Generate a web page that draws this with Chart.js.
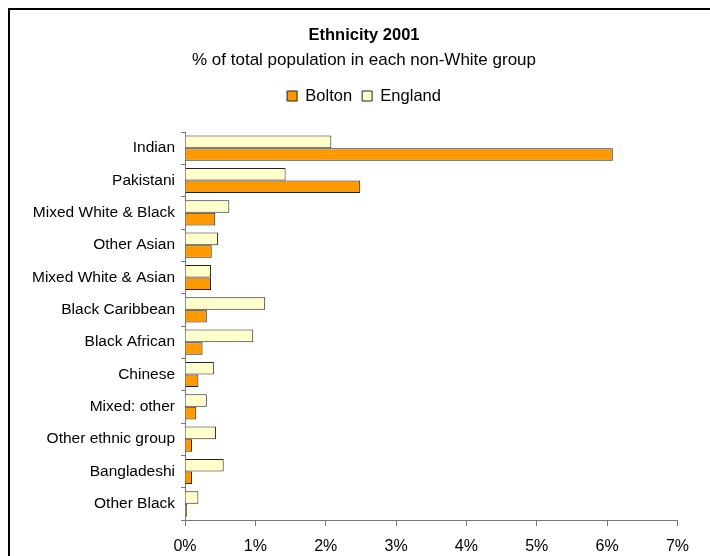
<!DOCTYPE html>
<html>
<head>
<meta charset="utf-8">
<script src="https://cdn.jsdelivr.net/npm/chart.js@4/dist/chart.umd.min.js"></script>
<style>
  html, body { margin: 0; padding: 0; background: #fff; }
  #wrap { width: 710px; height: 556px; position: relative; }
</style>
</head>
<body>
<div id="wrap"><canvas id="c" width="710" height="556"></canvas></div>
<script>
const categories = ['Indian', 'Pakistani', 'Mixed White & Black', 'Other Asian', 'Mixed White & Asian',
  'Black Caribbean', 'Black African', 'Chinese', 'Mixed: other', 'Other ethnic group', 'Bangladeshi', 'Other Black'];
const boltonValues = [6.08, 2.49, 0.43, 0.38, 0.37, 0.31, 0.25, 0.19, 0.16, 0.10, 0.10, 0.03];
const englandValues = [2.08, 1.43, 0.63, 0.47, 0.37, 1.14, 0.97, 0.41, 0.31, 0.44, 0.55, 0.19];
const xTickValues = [0, 1, 2, 3, 4, 5, 6, 7];
const titleText = 'Ethnicity 2001';
const subtitleText = '% of total population in each non-White group';

const FONT = "'Liberation Sans', Arial, sans-serif";

const framePlugin = {
  id: 'frame',
  beforeDraw(chart) {
    const ctx = chart.ctx;
    ctx.save();
    ctx.fillStyle = '#ffffff';
    ctx.fillRect(0, 0, chart.width, chart.height);
    ctx.restore();
  },
  afterDraw(chart) {
    const ctx = chart.ctx;
    ctx.save();
    ctx.strokeStyle = '#000000';
    ctx.lineWidth = 2;
    ctx.strokeRect(9, 9, 800, 800);
    ctx.restore();
  }
};

new Chart(document.getElementById('c'), {
  type: 'bar',
  data: {
    labels: categories,
    datasets: [
      {
        label: 'England',
        data: englandValues,
        backgroundColor: '#FFFFCC',
        borderColor: '#222222',
        borderWidth: 1,
        xAxisID: 'x',
        yAxisID: 'y',
        categoryPercentage: 0.78,
        barPercentage: 1.0
      },
      {
        label: 'Bolton',
        data: boltonValues,
        backgroundColor: '#FF9900',
        borderColor: '#222222',
        borderWidth: 1,
        xAxisID: 'x',
        yAxisID: 'y',
        categoryPercentage: 0.78,
        barPercentage: 1.0
      }
    ]
  },
  options: {
    indexAxis: 'y',
    responsive: false,
    animation: false,
    devicePixelRatio: 1,
    layout: { padding: { left: 18, right: 0, top: 0, bottom: 0 } },
    plugins: {
      title: {
        display: true,
        text: titleText,
        color: '#000',
        font: { family: FONT, size: 16.5, weight: 'bold', lineHeight: 1.2 },
        padding: { top: 25.1, bottom: 0 }
      },
      subtitle: {
        display: true,
        text: subtitleText,
        color: '#000',
        font: { family: FONT, size: 17, weight: 'normal', lineHeight: 1.2 },
        padding: { top: 4.9, bottom: 7.55 }
      },
      legend: {
        display: true,
        position: 'top',
        reverse: true,
        labels: {
          color: '#000',
          font: { family: FONT, size: 16.5 },
          boxWidth: 10,
          boxHeight: 10,
          padding: 10
        }
      },
      tooltip: { enabled: false }
    },
    scales: {
      x: {
        type: 'linear',
        position: 'bottom',
        min: 0,
        max: 7,
        afterBuildTicks(scale) { scale.ticks = xTickValues.map(v => ({ value: v })); },
        afterFit(scale) { scale.height = 36; },
        grid: { display: true, drawOnChartArea: false, drawTicks: true, tickLength: 6, color: '#777777' },
        border: { display: true, color: '#777777', width: 1 },
        ticks: {
          color: '#000',
          font: { family: FONT, size: 16 },
          padding: 11,
          maxRotation: 0,
          callback: v => v + '%'
        }
      },
      y: {
        type: 'category',
        position: 'left',
        offset: true,
        afterFit(scale) { scale.width = 167; },
        grid: { display: true, offset: true, drawOnChartArea: false, drawTicks: true, tickLength: 4, color: '#777777' },
        border: { display: true, color: '#777777', width: 1 },
        ticks: {
          color: '#000',
          font: { family: FONT, size: 15.5 },
          padding: 6,
          autoSkip: false
        }
      },
      xTop: {
        type: 'linear',
        axis: 'x',
        position: 'top',
        display: true,
        afterFit(scale) { scale.height = 17.75; },
        grid: { display: false, drawTicks: false },
        border: { display: false },
        ticks: { display: false }
      },
      yRight: {
        type: 'linear',
        axis: 'y',
        position: 'right',
        display: true,
        afterFit(scale) { scale.width = 32.5; },
        grid: { display: false, drawTicks: false },
        border: { display: false },
        ticks: { display: false }
      }
    }
  },
  plugins: [framePlugin]
});
</script>
</body>
</html>
